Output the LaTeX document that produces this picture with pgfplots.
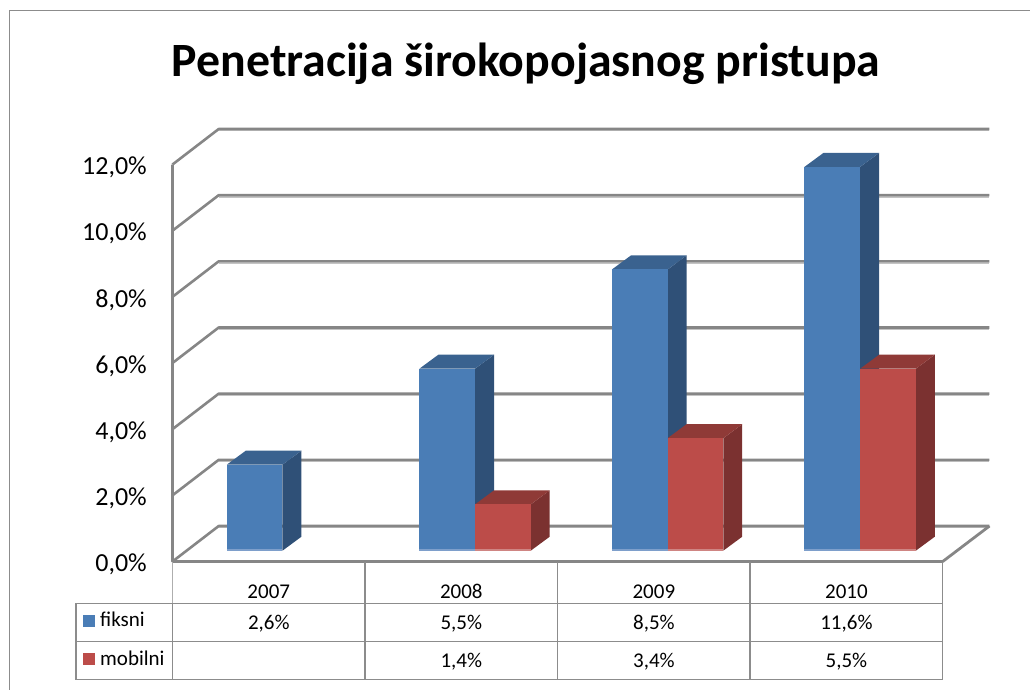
\documentclass[border=0pt]{standalone}
\usepackage{fontspec}
\setmainfont{Carlito}
\usepackage{pgfplots}
\pgfplotsset{compat=1.18}
\definecolor{gridc}{HTML}{868686}
\definecolor{gridl}{HTML}{C4C4C4}
\definecolor{framec}{HTML}{8C8C8C}
\definecolor{bluef}{HTML}{4A7DB6}
\definecolor{blues}{HTML}{2F5077}
\definecolor{bluet}{HTML}{3A628F}
\definecolor{bluee}{HTML}{7E9FCB}
\definecolor{redf}{HTML}{BC4C49}
\definecolor{reds}{HTML}{7B3130}
\definecolor{redt}{HTML}{8F3A37}
\definecolor{rede}{HTML}{CF8583}
% side and top face of a bar: left x, right x, value, colours
\newcommand{\faces}[5]{%
  \addplot[fill=#4,draw=none,yshift=10.8pt] coordinates {(#2,0) (#2+0.0987,0.4232) (#2+0.0987,#3+0.4232) (#2,#3)} -- cycle;
  \addplot[fill=#5,draw=none,yshift=10.8pt] coordinates {(#1,#3) (#1+0.0987,#3+0.4232) (#2+0.0987,#3+0.4232) (#2,#3)} -- cycle;
}
% light lower edge of a bar's front face
\newcommand{\edge}[3]{%
  \addplot[#3,line width=1.5pt,yshift=11.4pt] coordinates {(#1,0) (#2,0)};
}
\newcommand{\gridlvl}[1]{%
  \addplot[gridl,line width=1.2pt,yshift=-1.8pt] coordinates {(2006.74,#1+1.073) (2010.743,#1+1.073)};
  \addplot[gridc,line width=2.6pt,line join=round] coordinates {(2006.5,#1) (2006.74,#1+1.073) (2010.743,#1+1.073)};
}
\begin{document}
\begin{tikzpicture}[x=1pt,y=1pt]
\path[use as bounding box] (0,-690) rectangle (1030,0);
\draw[framec,line width=1.6pt] (9.5,-692) -- (9.5,-10.5) -- (1032,-10.5);
\node[font=\bfseries\fontsize{47.8}{52}\selectfont,anchor=center] at (526,-63.5) {Penetracija širokopojasnog pristupa};
\begin{axis}[
  at={(172.5pt,-561.5pt)},anchor=origin,
  scale only axis,width=770.2pt,height=397pt,
  xmin=2006.5,xmax=2010.5,ymin=0,ymax=12,
  clip=false,
  axis lines=left,
  axis line style={draw=none,-},
  major tick length=0pt,
  xtick={2007,2008,2009,2010},
  xticklabels={2007,2008,2009,2010},
  ytick={0,2,4,6,8,10,12},
  yticklabels={{0,0\%},{2,0\%},{4,0\%},{6,0\%},{8,0\%},{10,0\%},{12,0\%}},
  y tick label style={font=\fontsize{26}{30}\selectfont,anchor=east,inner sep=0pt,xshift=-25.5pt,yshift=-3pt},
  x tick label style={font=\fontsize{21}{24}\selectfont,anchor=base,inner sep=0pt,yshift=-36.5pt},
]
\gridlvl{0}\gridlvl{2}\gridlvl{4}\gridlvl{6}\gridlvl{8}\gridlvl{10}\gridlvl{12}
\addplot[gridc,line width=2.8pt,line join=round] coordinates {(2006.5,12) (2006.5,0) (2010.5,0) (2010.743,1.073)};
% 2007
\faces{2006.7819}{2007.0711}{2.6}{blues}{bluet}
\addplot[ybar,bar width=55.7pt,bar shift=-14.15pt,yshift=10.8pt,fill=bluef,draw=none] coordinates {(2007,2.6)};
\edge{2006.7819}{2007.0711}{bluee}
% 2008
\faces{2007.7819}{2008.0711}{5.5}{blues}{bluet}
\addplot[ybar,bar width=55.7pt,bar shift=-14.15pt,yshift=10.8pt,fill=bluef,draw=none] coordinates {(2008,5.5)};
\edge{2007.7819}{2008.0711}{bluee}
\faces{2008.0711}{2008.3604}{1.4}{reds}{redt}
\addplot[ybar,bar width=55.7pt,bar shift=41.55pt,yshift=10.8pt,fill=redf,draw=none] coordinates {(2008,1.4)};
\edge{2008.0711}{2008.3604}{rede}
% 2009
\faces{2008.7819}{2009.0711}{8.5}{blues}{bluet}
\addplot[ybar,bar width=55.7pt,bar shift=-14.15pt,yshift=10.8pt,fill=bluef,draw=none] coordinates {(2009,8.5)};
\edge{2008.7819}{2009.0711}{bluee}
\faces{2009.0711}{2009.3604}{3.4}{reds}{redt}
\addplot[ybar,bar width=55.7pt,bar shift=41.55pt,yshift=10.8pt,fill=redf,draw=none] coordinates {(2009,3.4)};
\edge{2009.0711}{2009.3604}{rede}
% 2010
\faces{2009.7819}{2010.0711}{11.6}{blues}{bluet}
\addplot[ybar,bar width=55.7pt,bar shift=-14.15pt,yshift=10.8pt,fill=bluef,draw=none] coordinates {(2010,11.6)};
\edge{2009.7819}{2010.0711}{bluee}
\faces{2010.0711}{2010.3604}{5.5}{reds}{redt}
\addplot[ybar,bar width=55.7pt,bar shift=41.55pt,yshift=10.8pt,fill=redf,draw=none] coordinates {(2010,5.5)};
\edge{2010.0711}{2010.3604}{rede}
\end{axis}
% data table
\draw[framec!70,line width=0.8pt] (172.5,-562) -- (172.5,-603.5);
\begin{scope}[framec,line width=1.5pt]
\draw (76,-603.5) rectangle (942.7,-679.5);
\draw (76,-641.5) -- (942.7,-641.5);
\draw (172.5,-603.5) -- (172.5,-679.5);
\draw (365,-562) -- (365,-679.5);
\draw (557.5,-562) -- (557.5,-679.5);
\draw (750,-562) -- (750,-679.5);
\draw (942.7,-562) -- (942.7,-679.5);
\end{scope}
\fill[bluef] (83,-615) rectangle (95,-627);
\fill[redf] (83,-653) rectangle (95,-665);
\begin{scope}[font=\fontsize{21}{24}\selectfont,inner sep=0pt]
\node[anchor=base west] at (100,-626.7) {f{}iksni};
\node[anchor=base west] at (100,-665) {mobilni};
\node[anchor=base] at (268.8,-629) {2,6\%};
\node[anchor=base] at (461.3,-629) {5,5\%};
\node[anchor=base] at (653.9,-629) {8,5\%};
\node[anchor=base] at (846.4,-629) {11,6\%};
\node[anchor=base] at (461.3,-667) {1,4\%};
\node[anchor=base] at (653.9,-667) {3,4\%};
\node[anchor=base] at (846.4,-667) {5,5\%};
\end{scope}
\end{tikzpicture}
\end{document}
